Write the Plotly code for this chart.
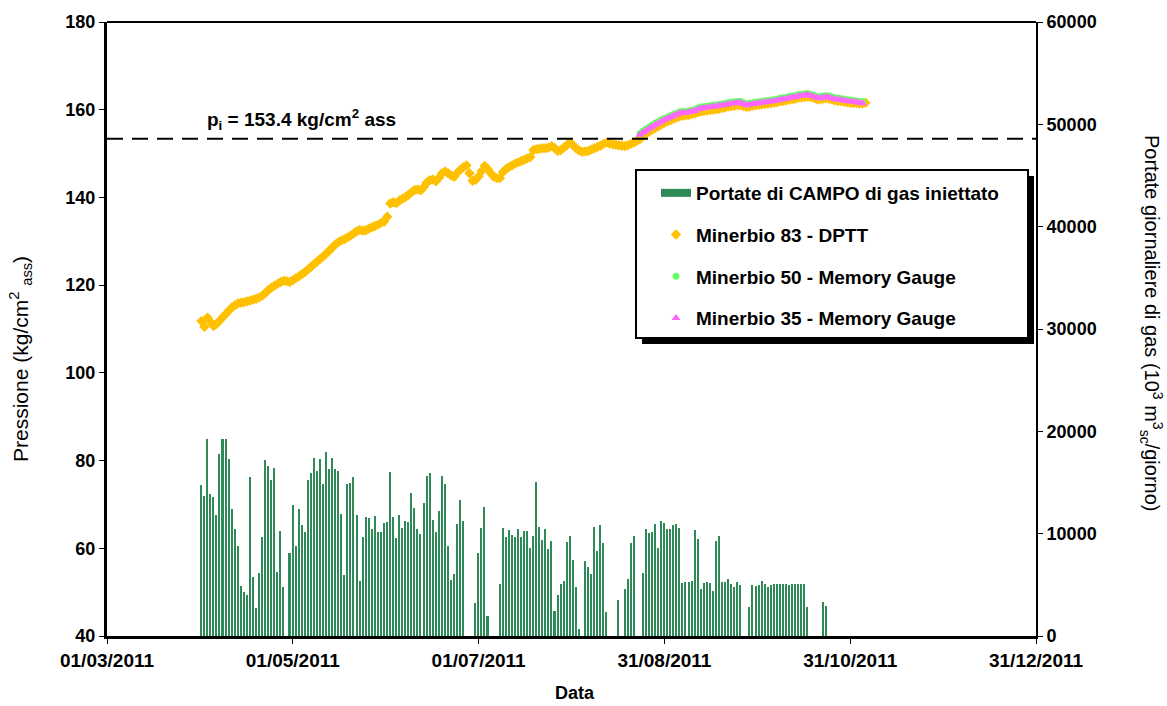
import pandas as pd
import plotly.graph_objects as go

# ---- data ---------------------------------------------------------------
# daily field injection rates (10^3 Sm3/day), one value per day from 01/04/2011
rates_start = "2011-04-01"
injection_rates = [
    14800, 13700, 19250, 13850, 13550, 11800, 17800, 19300, 19250, 17250,
    12450, 10500, 8800, 4900, 4300, 4050, 15500, 5800, 2700, 6150,
    9650, 17200, 16600, 15250, 16400, 6250, 10250, 4800, 0, 8100,
    12850, 8800, 12400, 10800, 10200, 15250, 15900, 17350, 16100, 17250,
    14850, 18000, 16300, 17350, 16300, 16100, 11900, 5950, 14900, 15000,
    15500, 11850,
    5400, 9650, 11600, 11500, 10450, 11700, 10200, 10150, 11000, 11100,
    16050, 11600, 9550, 11850, 10600, 11250, 11100, 13950, 12550, 10450,
    9950, 13000, 15600, 15950, 11350, 10150, 12200, 15650, 14900, 8800,
    5450, 6050, 10900, 13300, 11250, 0, 0, 0, 3200, 8100,
    10600, 12650, 2000, 0, 0, 0, 5100, 10600, 9650, 10400,
    9850, 9650,
    10500, 9650, 10250, 10250, 8600, 9750, 15050, 10700, 9400, 10450,
    8500, 9300, 2450, 4050, 5100, 5350, 9150, 9750, 7400, 4750,
    700, 0, 7350, 6750, 6100, 10650, 8300, 10800, 9050, 2350,
    0, 0, 0, 3500, 0, 4550, 5550, 9050, 9750, 0,
    0, 6150, 10500, 10050, 10200, 10950, 8600, 11200, 11000, 10500,
    10500, 10850, 10950,
    10600, 5200, 5300, 5300, 5400, 10400, 9500, 4600, 5150, 5300,
    5150, 4400, 9300, 9750, 5250, 5300, 5550, 5100, 4750, 5250,
    4950, 0, 0, 2800, 5000, 4850, 4950, 5350, 5100, 4800,
    5000, 5100, 5100, 5100, 5100, 5100, 5000, 5100, 5100, 5100,
    5100, 5100, 2850, 0, 0, 0, 0, 3350, 2950,
]

# Minerbio 83 - DPTT, daily pressure (kg/cm2 abs) from 01/04/2011
dptt_start = "2011-04-01"
dptt_pressure = [
    111.8, 110.5, 112.6, 111.6, 110.7, 111.2, 111.9, 112.7, 113.4, 114.2,
    114.9, 115.4, 115.8, 116.0, 116.1, 116.3, 116.5, 116.7, 116.9, 117.2,
    117.6, 118.2, 118.9, 119.4, 119.9, 120.3, 120.7, 121.0, 120.9, 120.7,
    121.1, 121.6, 122.0, 122.5, 123.0, 123.6, 124.2, 124.8, 125.4, 126.0,
    126.6, 127.2, 127.9, 128.6, 129.3, 129.8, 130.2, 130.5, 130.9, 131.3,
    131.8, 132.3, 132.6, 132.4, 132.5, 132.9, 133.2, 133.5, 133.8, 134.2,
    134.5, 135.6, 138.6, 138.9, 138.7, 139.3, 139.7, 140.1, 140.6, 141.2,
    141.7, 141.8, 141.6, 142.4, 143.4, 143.9, 144.1, 143.7, 144.5, 145.5,
    145.9, 145.5, 145.0, 144.7, 145.6, 146.3, 146.9, 147.3, 145.5, 143.8,
    144.0, 144.8, 146.0, 147.2, 146.5, 145.5, 144.7, 144.4, 144.4, 145.8,
    146.5, 146.9, 147.3, 147.7, 148.0, 148.3, 148.6, 148.9, 149.2, 150.8,
    151.0, 151.1, 151.2, 151.2, 151.4, 151.7, 151.2, 150.6, 150.8, 151.4,
    151.9, 152.5, 151.9, 151.2, 150.7, 150.4, 150.5, 150.6, 150.9, 151.2,
    151.5, 151.8, 152.2, 152.5, 152.3, 152.1, 152.0, 151.9, 151.8, 151.7,
    151.9, 152.2, 152.5, 152.9, 153.3,
    154.1, 154.5, 155.0, 155.4, 155.8, 156.2, 156.6, 157.0, 157.3, 157.6,
    157.9, 158.2, 158.5, 158.6, 158.7, 158.8, 159.0, 159.1, 159.4, 159.6,
    159.7, 159.8, 159.9, 160.0, 160.1, 160.2, 160.4, 160.5, 160.7, 160.8,
    160.9, 161.0, 161.0, 160.8, 160.6, 160.7, 160.9, 161.0, 161.1, 161.2,
    161.3, 161.4, 161.5, 161.6, 161.7, 161.9, 162.0, 162.1, 162.3, 162.4,
    162.5, 162.7, 162.8, 162.9, 163.0, 162.9, 162.7, 162.4, 162.3, 162.5,
    162.6, 162.5, 162.3, 162.1, 162.0, 161.9, 161.8, 161.7, 161.6, 161.5,
    161.5, 161.4, 161.4, 161.6,
]

# memory gauges, daily pressure (kg/cm2 abs) from 23/08/2011
gauge_start = "2011-08-23"
m50_pressure = [
    154.6, 155.1, 155.6, 156.0, 156.5, 156.9, 157.3, 157.7, 158.0, 158.3,
    158.6, 158.9, 159.2, 159.5, 159.6, 159.6, 159.7, 159.9, 160.0, 160.4,
    160.6, 160.7, 160.8, 160.9, 161.0, 161.1, 161.2, 161.3, 161.4, 161.6,
    161.7, 161.8, 161.9, 161.9, 161.6, 161.3, 161.5, 161.6, 161.7, 161.8,
    161.9, 162.0, 162.1, 162.2, 162.3, 162.4, 162.6, 162.7, 162.8, 163.0,
    163.1, 163.2, 163.4, 163.5, 163.6, 163.7, 163.5, 163.3, 163.0, 162.9,
    163.1, 163.2, 163.1, 162.9, 162.7, 162.6, 162.5, 162.4, 162.3, 162.2,
    162.1, 162.0, 161.9, 161.8,
]
m35_pressure = [
    154.3, 154.8, 155.2, 155.7, 156.1, 156.5, 156.9, 157.3, 157.7, 158.0,
    158.3, 158.6, 158.9, 159.2, 159.3, 159.3, 159.4, 159.6, 159.7, 160.1,
    160.3, 160.4, 160.5, 160.6, 160.7, 160.8, 160.9, 161.0, 161.1, 161.3,
    161.4, 161.5, 161.6, 161.6, 161.3, 161.0, 161.2, 161.3, 161.4, 161.5,
    161.6, 161.7, 161.8, 161.9, 162.0, 162.1, 162.3, 162.4, 162.5, 162.7,
    162.8, 162.9, 163.1, 163.2, 163.3, 163.4, 163.2, 163.0, 162.7, 162.6,
    162.8, 162.9, 162.8, 162.6, 162.4, 162.3, 162.2, 162.1, 162.0, 161.9,
    161.8, 161.7, 161.6, 161.5,
]

initial_pressure = 153.4

x_tick_dates = ["2011-03-01", "2011-05-01", "2011-07-01",
                "2011-08-31", "2011-10-31", "2011-12-31"]
x_tick_labels = ["01/03/2011", "01/05/2011", "01/07/2011",
                 "31/08/2011", "31/10/2011", "31/12/2011"]

legend_names = ["Portate di CAMPO di gas iniettato",
                "Minerbio 83 - DPTT",
                "Minerbio 50 - Memory Gauge",
                "Minerbio 35 - Memory Gauge"]

# ---- styling ------------------------------------------------------------
FONT = "Arial, Liberation Sans, sans-serif"
BAR_GREEN = "#2E8B57"
ORANGE = "#FFC000"
LIGHT_GREEN = "#66FF66"
MAGENTA = "#FF66FF"
DAY_MS = 86400000

# plot area in pixels (for placing paper-referenced items)
PX_L, PX_R, PX_T, PX_B = 107, 1036, 22, 636


def px_x(px):
    return (px - PX_L) / (PX_R - PX_L)


def px_y(px):
    return (PX_B - px) / (PX_B - PX_T)


rate_days = pd.date_range(rates_start, periods=len(injection_rates), freq="D")
dptt_days = pd.date_range(dptt_start, periods=len(dptt_pressure), freq="D")
m50_days = pd.date_range(gauge_start, periods=len(m50_pressure), freq="D")
m35_days = pd.date_range(gauge_start, periods=len(m35_pressure), freq="D")

fig = go.Figure()

# injection rates on the secondary (right) axis
fig.add_trace(go.Bar(
    x=rate_days, y=injection_rates, yaxis="y2",
    width=0.5 * DAY_MS, marker=dict(color=BAR_GREEN, line=dict(width=0)),
    name=legend_names[0], showlegend=False,
))
# legend key for the bars (wide band symbol)
fig.add_trace(go.Scatter(
    x=[None], y=[None], mode="lines", yaxis="y2",
    line=dict(color=BAR_GREEN, width=8),
    name=legend_names[0], legendgroup="g0",
))

fig.add_trace(go.Scatter(
    x=dptt_days, y=dptt_pressure, mode="markers",
    marker=dict(symbol="diamond", size=8, color=ORANGE, line=dict(width=0)),
    name=legend_names[1], legendgroup="g1",
))
fig.add_trace(go.Scatter(
    x=m50_days, y=m50_pressure, mode="markers",
    marker=dict(symbol="circle", size=7, color=LIGHT_GREEN, line=dict(width=0)),
    name=legend_names[2], legendgroup="g2",
))
fig.add_trace(go.Scatter(
    x=m35_days, y=m35_pressure, mode="markers",
    marker=dict(symbol="triangle-up", size=8, color=MAGENTA, line=dict(width=0)),
    name=legend_names[3], legendgroup="g3",
))

y_tick_font = dict(family=FONT, size=18, color="black", weight="bold")
x_tick_font = dict(family=FONT, size=19, color="black", weight="bold")

fig.update_layout(
    width=1167, height=706,
    margin=dict(l=PX_L, r=1167 - PX_R, t=PX_T, b=706 - PX_B),
    paper_bgcolor="white", plot_bgcolor="white",
    font=dict(family=FONT, color="black"),
    bargap=0,
    xaxis=dict(
        type="date",
        range=["2011-03-01", "2011-12-31"],
        tickmode="array", tickvals=x_tick_dates, ticktext=x_tick_labels,
        tickfont=x_tick_font, ticks="outside", ticklen=5, tickcolor="black",
        showline=True, linecolor="black", linewidth=3,
        showgrid=False, zeroline=False,
    ),
    yaxis=dict(
        range=[40, 180], tickmode="linear", tick0=40, dtick=20,
        tickfont=y_tick_font, ticks="outside", ticklen=5, tickcolor="black",
        showline=True, linecolor="black", linewidth=3,
        showgrid=False, zeroline=False,
    ),
    yaxis2=dict(
        overlaying="y", side="right",
        range=[0, 60000], tickmode="linear", tick0=0, dtick=10000,
        tickformat="d",
        tickfont=y_tick_font, ticks="outside", ticklen=5, tickcolor="black",
        showline=True, linecolor="black", linewidth=2,
        showgrid=False, zeroline=False,
    ),
    legend=dict(
        x=px_x(656), y=px_y(174),
        xanchor="left", yanchor="top",
        bgcolor="rgba(0,0,0,0)", borderwidth=0,
        font=dict(family=FONT, size=19, color="black", weight="bold"),
        tracegroupgap=14,
        traceorder="grouped",
    ),
    shapes=[
        # top edge of the plot frame
        dict(type="line", xref="paper", yref="paper", x0=0, x1=1, y0=1, y1=1,
             line=dict(color="black", width=2)),
        # initial reservoir pressure
        dict(type="line", xref="paper", yref="y", x0=0, x1=1,
             y0=initial_pressure, y1=initial_pressure,
             line=dict(color="black", width=2, dash="16px,9px")),
        # legend drop shadow and box
        dict(type="rect", xref="paper", yref="paper",
             x0=px_x(642), x1=px_x(1034), y0=px_y(344), y1=px_y(176),
             fillcolor="black", line=dict(width=0), layer="above"),
        dict(type="rect", xref="paper", yref="paper",
             x0=px_x(636), x1=px_x(1028), y0=px_y(338), y1=px_y(170),
             fillcolor="white", line=dict(color="black", width=2), layer="above"),
    ],
    annotations=[
        dict(text="p<sub>i</sub> = 153.4 kg/cm<sup>2</sup> ass",
             xref="paper", yref="y", x=px_x(205), y=157.7,
             xanchor="left", yanchor="middle", showarrow=False,
             font=dict(family=FONT, size=19, color="black", weight="bold")),
        dict(text="Data", xref="paper", yref="paper",
             x=px_x(575), y=px_y(693),
             xanchor="center", yanchor="middle", showarrow=False,
             font=dict(family=FONT, size=18, color="black", weight="bold")),
        dict(text="Pressione (kg/cm<sup>2</sup> <sub>ass</sub>)",
             xref="paper", yref="paper",
             x=px_x(20), y=px_y(359),
             xanchor="center", yanchor="middle", textangle=-90, showarrow=False,
             font=dict(family=FONT, size=21, color="black")),
        dict(text="Portate giornaliere di gas (10<sup>3</sup> m<sup>3</sup><sub>sc</sub>/giorno)",
             xref="paper", yref="paper",
             x=px_x(1152), y=px_y(323),
             xanchor="center", yanchor="middle", textangle=90, showarrow=False,
             font=dict(family=FONT, size=20, color="black")),
    ],
)

fig.write_html("out.html")
